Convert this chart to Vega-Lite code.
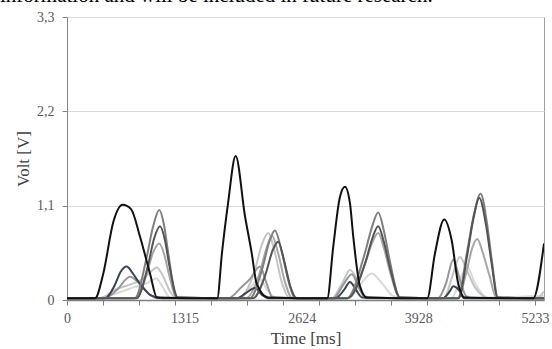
{
  "$schema": "https://vega.github.io/schema/vega-lite/v6.json",
  "autosize": "none",
  "width": 477,
  "height": 283,
  "padding": {"left": 67, "top": 17, "right": 8, "bottom": 49},
  "background": "white",
  "title": {
    "text": "information and will be included in future research.",
    "anchor": "start",
    "frame": "group",
    "font": "Liberation Serif",
    "fontSize": 21,
    "fontWeight": "normal",
    "color": "#000000",
    "baseline": "alphabetic",
    "offset": 0,
    "dy": 13,
    "dx": -67
  },
  "config": {
    "view": {"stroke": "#a0a0a0", "strokeWidth": 1}
  },
  "data": {
    "values": [
      {"s":"H","t":0,"v":0.02},{"s":"H","t":330,"v":0.02},{"s":"H","t":560,"v":0.08},{"s":"H","t":750,"v":0.15},{"s":"H","t":900,"v":0.2},{"s":"H","t":1000,"v":0.25},{"s":"H","t":1070,"v":0.15},{"s":"H","t":1160,"v":0.02},{"s":"H","t":1900,"v":0.02},{"s":"H","t":2050,"v":0.15},{"s":"H","t":2150,"v":0.25},{"s":"H","t":2250,"v":0.1},{"s":"H","t":2350,"v":0.02},{"s":"H","t":3150,"v":0.02},{"s":"H","t":3280,"v":0.18},{"s":"H","t":3406,"v":0.31},{"s":"H","t":3520,"v":0.2},{"s":"H","t":3640,"v":0.05},{"s":"H","t":3750,"v":0.02},{"s":"H","t":4300,"v":0.02},{"s":"H","t":4420,"v":0.3},{"s":"H","t":4480,"v":0.38},{"s":"H","t":4560,"v":0.2},{"s":"H","t":4700,"v":0.03},{"s":"H","t":5334,"v":0.05},

      {"s":"C","t":0,"v":0.02},{"s":"C","t":369,"v":0.02},{"s":"C","t":537,"v":0.12},{"s":"C","t":704,"v":0.18},{"s":"C","t":839,"v":0.24},{"s":"C","t":928,"v":0.32},{"s":"C","t":1003,"v":0.38},{"s":"C","t":1073,"v":0.28},{"s":"C","t":1152,"v":0.1},{"s":"C","t":1241,"v":0.02},{"s":"C","t":1950,"v":0.02},{"s":"C","t":1990,"v":0.08},{"s":"C","t":2102,"v":0.35},{"s":"C","t":2180,"v":0.65},{"s":"C","t":2251,"v":0.78},{"s":"C","t":2314,"v":0.6},{"s":"C","t":2404,"v":0.2},{"s":"C","t":2493,"v":0.02},{"s":"C","t":2960,"v":0.02},{"s":"C","t":3080,"v":0.2},{"s":"C","t":3164,"v":0.35},{"s":"C","t":3240,"v":0.25},{"s":"C","t":3330,"v":0.05},{"s":"C","t":3400,"v":0.02},{"s":"C","t":4220,"v":0.02},{"s":"C","t":4300,"v":0.25},{"s":"C","t":4394,"v":0.5},{"s":"C","t":4470,"v":0.35},{"s":"C","t":4560,"v":0.15},{"s":"C","t":4650,"v":0.05},{"s":"C","t":4720,"v":0.02},{"s":"C","t":5250,"v":0.02},{"s":"C","t":5334,"v":0.1},

      {"s":"G","t":0,"v":0.02},{"s":"G","t":760,"v":0.02},{"s":"G","t":891,"v":0.3},{"s":"G","t":961,"v":0.55},{"s":"G","t":1032,"v":0.66},{"s":"G","t":1090,"v":0.52},{"s":"G","t":1140,"v":0.3},{"s":"G","t":1230,"v":0.03},{"s":"G","t":2000,"v":0.02},{"s":"G","t":2150,"v":0.3},{"s":"G","t":2230,"v":0.6},{"s":"G","t":2292,"v":0.75},{"s":"G","t":2360,"v":0.55},{"s":"G","t":2440,"v":0.2},{"s":"G","t":2520,"v":0.02},{"s":"G","t":3127,"v":0.02},{"s":"G","t":3332,"v":0.42},{"s":"G","t":3410,"v":0.66},{"s":"G","t":3480,"v":0.78},{"s":"G","t":3545,"v":0.6},{"s":"G","t":3611,"v":0.33},{"s":"G","t":3723,"v":0.03},{"s":"G","t":4371,"v":0.02},{"s":"G","t":4472,"v":0.35},{"s":"G","t":4530,"v":0.6},{"s":"G","t":4587,"v":0.71},{"s":"G","t":4650,"v":0.55},{"s":"G","t":4720,"v":0.3},{"s":"G","t":4800,"v":0.03},{"s":"G","t":5334,"v":0.02},

      {"s":"D","t":0,"v":0.02},{"s":"D","t":420,"v":0.02},{"s":"D","t":560,"v":0.12},{"s":"D","t":704,"v":0.27},{"s":"D","t":820,"v":0.18},{"s":"D","t":930,"v":0.06},{"s":"D","t":1020,"v":0.02},{"s":"D","t":1800,"v":0.02},{"s":"D","t":1950,"v":0.15},{"s":"D","t":2050,"v":0.25},{"s":"D","t":2158,"v":0.39},{"s":"D","t":2230,"v":0.2},{"s":"D","t":2300,"v":0.03},{"s":"D","t":2980,"v":0.02},{"s":"D","t":3090,"v":0.18},{"s":"D","t":3186,"v":0.3},{"s":"D","t":3260,"v":0.15},{"s":"D","t":3340,"v":0.02},{"s":"D","t":4150,"v":0.02},{"s":"D","t":4240,"v":0.2},{"s":"D","t":4319,"v":0.47},{"s":"D","t":4390,"v":0.25},{"s":"D","t":4460,"v":0.05},{"s":"D","t":4520,"v":0.02},{"s":"D","t":5334,"v":0.02},

      {"s":"B","t":0,"v":0.02},{"s":"B","t":425,"v":0.02},{"s":"B","t":537,"v":0.18},{"s":"B","t":600,"v":0.33},{"s":"B","t":667,"v":0.39},{"s":"B","t":730,"v":0.32},{"s":"B","t":794,"v":0.22},{"s":"B","t":870,"v":0.12},{"s":"B","t":928,"v":0.06},{"s":"B","t":1062,"v":0.02},{"s":"B","t":1900,"v":0.02},{"s":"B","t":2000,"v":0.08},{"s":"B","t":2102,"v":0.14},{"s":"B","t":2180,"v":0.06},{"s":"B","t":2260,"v":0.02},{"s":"B","t":3000,"v":0.02},{"s":"B","t":3100,"v":0.12},{"s":"B","t":3164,"v":0.21},{"s":"B","t":3230,"v":0.12},{"s":"B","t":3300,"v":0.03},{"s":"B","t":4200,"v":0.02},{"s":"B","t":4280,"v":0.1},{"s":"B","t":4319,"v":0.16},{"s":"B","t":4380,"v":0.12},{"s":"B","t":4440,"v":0.02},{"s":"B","t":5334,"v":0.02},

      {"s":"E","t":0,"v":0.02},{"s":"E","t":760,"v":0.02},{"s":"E","t":891,"v":0.5},{"s":"E","t":961,"v":0.85},{"s":"E","t":1032,"v":1.05},{"s":"E","t":1084,"v":0.88},{"s":"E","t":1133,"v":0.54},{"s":"E","t":1226,"v":0.03},{"s":"E","t":2046,"v":0.02},{"s":"E","t":2180,"v":0.35},{"s":"E","t":2269,"v":0.7},{"s":"E","t":2325,"v":0.81},{"s":"E","t":2404,"v":0.55},{"s":"E","t":2482,"v":0.2},{"s":"E","t":2549,"v":0.02},{"s":"E","t":3127,"v":0.02},{"s":"E","t":3332,"v":0.55},{"s":"E","t":3410,"v":0.85},{"s":"E","t":3480,"v":1.02},{"s":"E","t":3545,"v":0.8},{"s":"E","t":3611,"v":0.45},{"s":"E","t":3723,"v":0.03},{"s":"E","t":4371,"v":0.02},{"s":"E","t":4472,"v":0.55},{"s":"E","t":4551,"v":1.0},{"s":"E","t":4625,"v":1.24},{"s":"E","t":4696,"v":0.9},{"s":"E","t":4752,"v":0.45},{"s":"E","t":4819,"v":0.03},{"s":"E","t":5334,"v":0.02},

      {"s":"F","t":0,"v":0.02},{"s":"F","t":780,"v":0.02},{"s":"F","t":905,"v":0.4},{"s":"F","t":975,"v":0.72},{"s":"F","t":1040,"v":0.86},{"s":"F","t":1095,"v":0.7},{"s":"F","t":1145,"v":0.4},{"s":"F","t":1240,"v":0.03},{"s":"F","t":2080,"v":0.02},{"s":"F","t":2220,"v":0.3},{"s":"F","t":2300,"v":0.58},{"s":"F","t":2362,"v":0.68},{"s":"F","t":2430,"v":0.45},{"s":"F","t":2500,"v":0.15},{"s":"F","t":2570,"v":0.02},{"s":"F","t":3140,"v":0.02},{"s":"F","t":3340,"v":0.45},{"s":"F","t":3415,"v":0.72},{"s":"F","t":3480,"v":0.86},{"s":"F","t":3545,"v":0.67},{"s":"F","t":3611,"v":0.38},{"s":"F","t":3723,"v":0.03},{"s":"F","t":4380,"v":0.02},{"s":"F","t":4472,"v":0.5},{"s":"F","t":4545,"v":0.95},{"s":"F","t":4610,"v":1.19},{"s":"F","t":4685,"v":0.88},{"s":"F","t":4745,"v":0.45},{"s":"F","t":4815,"v":0.03},{"s":"F","t":5334,"v":0.02},

      {"s":"A","t":0,"v":0.02},{"s":"A","t":313,"v":0.02},{"s":"A","t":406,"v":0.31},{"s":"A","t":518,"v":0.91},{"s":"A","t":623,"v":1.11},{"s":"A","t":716,"v":1.06},{"s":"A","t":816,"v":0.74},{"s":"A","t":928,"v":0.31},{"s":"A","t":1006,"v":0.03},{"s":"A","t":1680,"v":0.02},{"s":"A","t":1733,"v":0.55},{"s":"A","t":1800,"v":1.12},{"s":"A","t":1886,"v":1.68},{"s":"A","t":1990,"v":0.98},{"s":"A","t":2065,"v":0.55},{"s":"A","t":2121,"v":0.19},{"s":"A","t":2247,"v":0.03},{"s":"A","t":2910,"v":0.02},{"s":"A","t":2977,"v":0.62},{"s":"A","t":3052,"v":1.2},{"s":"A","t":3108,"v":1.32},{"s":"A","t":3164,"v":1.13},{"s":"A","t":3201,"v":0.74},{"s":"A","t":3276,"v":0.16},{"s":"A","t":3351,"v":0.03},{"s":"A","t":4028,"v":0.02},{"s":"A","t":4114,"v":0.54},{"s":"A","t":4218,"v":0.94},{"s":"A","t":4301,"v":0.7},{"s":"A","t":4375,"v":0.19},{"s":"A","t":4450,"v":0.03},{"s":"A","t":5213,"v":0.02},{"s":"A","t":5334,"v":0.66}
    ]
  },
  "mark": {"type": "line", "interpolate": "monotone", "strokeWidth": 2, "clip": true},
  "encoding": {
    "x": {
      "field": "t",
      "type": "quantitative",
      "scale": {"domain": [0, 5334], "nice": false, "zero": false},
      "axis": {
        "title": "Time [ms]",
        "values": [0, 402.5, 805, 1207.5, 1315, 1610, 2012.5, 2415, 2624, 2817.5, 3220, 3622.5, 3928, 4025, 4427.5, 4830, 5232.5, 5233],
        "format": "d",
        "labelExpr": "indexof([0,1315,2624,3928,5233], datum.value) >= 0 ? datum.label : ''",
        "labelOverlap": false,
        "labelFlush": false,
        "labelBound": false,
        "tickOpacity": {"condition": {"test": "indexof([1315,2624,3928,5233], datum.value) >= 0", "value": 0}, "value": 1},
        "grid": false,
        "tickSize": 5,
        "tickColor": "#7f7f7f",
        "domainColor": "#7f7f7f",
        "domainWidth": 1.5,
        "labelFont": "Liberation Serif",
        "labelFontSize": 14,
        "labelColor": "#595959",
        "labelPadding": 6,
        "titleFont": "Liberation Serif",
        "titleFontSize": 17,
        "titleFontWeight": "normal",
        "titleColor": "#404040",
        "titlePadding": 5
      }
    },
    "y": {
      "field": "v",
      "type": "quantitative",
      "scale": {"domain": [0, 3.3], "nice": false},
      "axis": {
        "title": "Volt [V]",
        "values": [0, 1.1, 2.2, 3.3],
        "labelExpr": "datum.value == 0 ? '0' : replace(format(datum.value, '.1f'), '.', ',')",
        "grid": true,
        "gridColor": "#d9d9d9",
        "tickSize": 5,
        "tickColor": "#868686",
        "domainColor": "#868686",
        "labelFont": "Liberation Serif",
        "labelFontSize": 14,
        "labelColor": "#595959",
        "labelPadding": 8,
        "titleFont": "Liberation Serif",
        "titleFontSize": 17,
        "titleFontWeight": "normal",
        "titleColor": "#404040",
        "titlePadding": 4
      }
    },
    "color": {
      "field": "s",
      "type": "nominal",
      "scale": {
        "domain": ["H", "C", "G", "D", "B", "E", "F", "A"],
        "range": ["#d9d9d9", "#c4c4c4", "#a6a6a6", "#969696", "#3b4354", "#7f7f7f", "#545454", "#111111"]
      },
      "legend": null
    },
    "order": {"field": "t", "type": "quantitative"}
  }
}
